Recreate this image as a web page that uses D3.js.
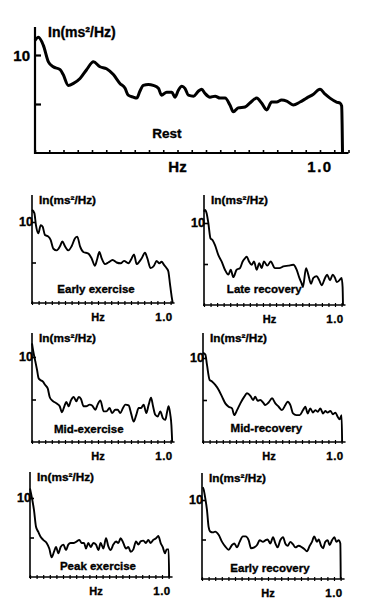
<!DOCTYPE html>
<html>
<head>
<meta charset="utf-8">
<script src="https://cdn.jsdelivr.net/npm/d3@7"></script>
<style>
  html, body { margin: 0; padding: 0; background: #fff; }
  svg { display: block; font-family: "Liberation Sans", Arial, Helvetica, sans-serif; font-weight: bold; }
  svg text { fill: #000; stroke: #000; stroke-width: 0.35px; }
</style>
</head>
<body>
<svg id="chart" width="367" height="611"></svg>
<script>
// spectra: [frequency in Hz, ln(ms²/Hz)]
const rest = [
  [0, 11.5], [0.012, 11.8], [0.029, 11.0], [0.047, 9.3], [0.064, 8.8], [0.088, 8.5], [0.099, 8.0],
  [0.117, 6.9], [0.135, 7.1], [0.158, 7.6], [0.181, 8.5], [0.205, 9.3], [0.228, 8.8], [0.251, 8.6],
  [0.275, 8.0], [0.298, 7.1], [0.316, 6.6], [0.327, 5.9], [0.345, 5.7], [0.357, 5.6], [0.368, 6.3],
  [0.380, 6.9], [0.398, 7.0], [0.415, 6.9], [0.433, 6.6], [0.444, 5.9], [0.462, 6.2], [0.480, 6.2],
  [0.491, 5.7], [0.503, 6.4], [0.515, 6.8], [0.526, 6.6], [0.538, 5.9], [0.556, 5.8], [0.573, 6.3],
  [0.585, 6.5], [0.596, 6.1], [0.614, 5.7], [0.632, 5.8], [0.649, 5.6], [0.667, 5.6], [0.684, 4.9],
  [0.696, 4.2], [0.713, 4.6], [0.737, 4.7], [0.754, 5.1], [0.778, 5.6], [0.795, 5.1], [0.813, 4.4],
  [0.830, 5.2], [0.848, 5.2], [0.865, 5.4], [0.883, 5.3], [0.906, 4.9], [0.930, 5.2], [0.953, 5.6],
  [0.977, 6.0], [1.000, 6.5], [1.018, 6.0], [1.035, 5.6], [1.058, 5.2], [1.070, 5.1], [1.076, 4.8],
  [1.079, 0]
];
const earlyExercise = [
  [0, 11.5], [0.018, 11.1], [0.03, 9.6], [0.048, 8.6], [0.066, 9.6], [0.081, 9.4], [0.098, 8.4],
  [0.124, 8.2], [0.141, 7.8], [0.162, 6.7], [0.187, 6.5], [0.212, 7.0], [0.230, 7.6], [0.25, 7.0],
  [0.275, 6.5], [0.30, 7.0], [0.326, 8.0], [0.343, 8.2], [0.364, 7.0], [0.389, 6.3], [0.427, 6.1],
  [0.452, 5.5], [0.477, 4.6], [0.495, 5.5], [0.51, 6.3], [0.528, 5.5], [0.553, 4.8], [0.578, 5.0],
  [0.611, 5.3], [0.641, 5.0], [0.672, 4.9], [0.697, 5.2], [0.73, 4.9], [0.755, 5.5], [0.773, 6.0],
  [0.793, 4.8], [0.813, 5.1], [0.83, 5.5], [0.856, 6.2], [0.874, 5.5], [0.899, 4.3], [0.924, 4.6],
  [0.944, 5.2], [0.965, 4.9], [0.982, 5.1], [1.0, 4.7], [1.02, 4.3], [1.033, 3.9], [1.045, 2.4],
  [1.058, 0.8], [1.066, 0]
];
const lateRecovery = [
  [0, 11.4], [0.008, 11.6], [0.02, 11.2], [0.033, 10.0], [0.05, 8.1], [0.066, 7.9], [0.084, 7.3],
  [0.109, 6.1], [0.135, 5.3], [0.16, 4.3], [0.186, 3.7], [0.204, 4.3], [0.224, 3.4], [0.249, 4.3],
  [0.275, 4.5], [0.295, 5.3], [0.313, 5.7], [0.326, 5.9], [0.344, 5.3], [0.364, 4.9], [0.382, 5.3],
  [0.402, 4.3], [0.422, 5.1], [0.44, 4.5], [0.458, 5.3], [0.483, 4.8], [0.509, 5.3], [0.542, 4.5],
  [0.575, 4.5], [0.606, 4.7], [0.644, 4.8], [0.682, 4.9], [0.707, 4.3], [0.728, 3.3], [0.746, 2.6],
  [0.755, 2.2], [0.779, 4.5], [0.796, 3.7], [0.817, 2.6], [0.835, 3.3], [0.86, 3.5], [0.88, 3.0],
  [0.898, 2.4], [0.924, 3.3], [0.94, 3.7], [0.962, 3.0], [0.982, 3.7], [1.0, 3.3], [1.013, 2.8],
  [1.033, 3.0], [1.05, 3.3], [1.058, 2.2], [1.061, 0]
];
const midExercise = [
  [0, 11.6], [0.008, 10.8], [0.025, 9.5], [0.038, 8.5], [0.05, 7.5], [0.063, 7.3], [0.083, 7.1],
  [0.10, 6.7], [0.119, 6.3], [0.134, 5.3], [0.152, 4.9], [0.169, 4.7], [0.19, 4.5], [0.21, 4.2],
  [0.227, 3.5], [0.245, 4.2], [0.26, 4.7], [0.278, 4.2], [0.295, 4.9], [0.316, 5.3], [0.336, 4.8],
  [0.354, 5.3], [0.37, 5.1], [0.391, 4.2], [0.41, 4.2], [0.437, 4.4], [0.455, 4.3], [0.48, 3.8],
  [0.497, 4.4], [0.518, 4.9], [0.543, 3.6], [0.563, 3.6], [0.588, 4.0], [0.606, 3.4], [0.631, 3.8],
  [0.649, 3.8], [0.669, 3.4], [0.689, 4.0], [0.707, 4.4], [0.732, 4.3], [0.75, 3.4], [0.77, 2.4],
  [0.79, 3.2], [0.808, 4.0], [0.826, 4.0], [0.846, 4.4], [0.866, 3.4], [0.884, 4.4], [0.902, 5.2],
  [0.917, 4.2], [0.934, 3.2], [0.952, 3.0], [0.972, 3.6], [0.992, 2.8], [1.01, 2.6], [1.023, 3.5],
  [1.035, 4.2], [1.048, 3.2], [1.056, 2.0], [1.062, 0]
];
const midRecovery = [
  [0, 10.6], [0.018, 10.4], [0.03, 9.2], [0.05, 7.4], [0.068, 7.2], [0.093, 6.8], [0.119, 6.2],
  [0.144, 5.4], [0.169, 4.6], [0.194, 4.2], [0.22, 4.0], [0.237, 3.2], [0.258, 3.8], [0.283, 4.6],
  [0.313, 5.4], [0.333, 5.8], [0.359, 5.5], [0.379, 5.0], [0.396, 5.4], [0.414, 4.9], [0.434, 5.0],
  [0.455, 4.7], [0.472, 4.4], [0.497, 4.7], [0.523, 5.2], [0.548, 4.6], [0.573, 4.2], [0.598, 3.8],
  [0.624, 4.4], [0.641, 4.8], [0.662, 4.4], [0.682, 3.4], [0.707, 3.2], [0.732, 3.2], [0.758, 3.8],
  [0.775, 4.2], [0.793, 3.4], [0.813, 4.0], [0.833, 3.5], [0.851, 3.8], [0.869, 3.6], [0.889, 4.0],
  [0.909, 3.4], [0.927, 3.7], [0.944, 3.5], [0.965, 3.7], [0.985, 3.3], [1.003, 3.5], [1.02, 3.0],
  [1.035, 2.7], [1.05, 3.2], [1.054, 0]
];
const peakExercise = [
  [0, 11.2], [0.005, 10.8], [0.018, 9.7], [0.03, 8.5], [0.045, 6.4], [0.063, 5.7], [0.08, 5.1],
  [0.10, 4.7], [0.126, 4.3], [0.146, 3.6], [0.164, 2.5], [0.182, 3.2], [0.197, 3.8], [0.215, 3.0],
  [0.232, 3.8], [0.253, 4.1], [0.273, 3.4], [0.29, 4.1], [0.308, 4.3], [0.333, 4.3], [0.354, 4.5],
  [0.374, 4.7], [0.39, 4.3], [0.41, 4.3], [0.424, 3.6], [0.442, 4.3], [0.46, 3.8], [0.48, 4.3],
  [0.5, 4.1], [0.518, 3.4], [0.535, 4.3], [0.556, 3.6], [0.576, 4.9], [0.593, 3.9], [0.611, 3.4],
  [0.631, 4.1], [0.652, 4.5], [0.669, 4.3], [0.687, 4.9], [0.707, 4.3], [0.727, 3.6], [0.745, 3.8],
  [0.763, 3.2], [0.783, 3.5], [0.803, 4.5], [0.821, 4.1], [0.838, 4.5], [0.859, 4.6], [0.879, 4.3],
  [0.896, 4.7], [0.914, 4.3], [0.934, 4.7], [0.955, 4.9], [0.972, 5.2], [0.99, 4.3], [1.005, 3.8],
  [1.023, 3.0], [1.035, 3.5], [1.05, 3.5], [1.054, 0]
];
const earlyRecovery = [
  [0.005, 11.6], [0.013, 11.3], [0.025, 10.2], [0.038, 8.7], [0.05, 6.6], [0.063, 6.0], [0.083, 5.9],
  [0.1, 6.0], [0.126, 5.6], [0.152, 4.7], [0.177, 4.1], [0.202, 3.7], [0.227, 4.3], [0.245, 4.5],
  [0.265, 4.0], [0.285, 4.7], [0.31, 5.4], [0.33, 5.4], [0.354, 4.9], [0.371, 3.9], [0.396, 4.0],
  [0.417, 4.3], [0.437, 4.9], [0.462, 4.7], [0.48, 4.9], [0.497, 5.0], [0.518, 4.5], [0.538, 5.3],
  [0.556, 4.5], [0.573, 4.0], [0.593, 4.9], [0.614, 5.3], [0.631, 4.5], [0.649, 4.2], [0.669, 4.7],
  [0.689, 4.4], [0.707, 4.0], [0.732, 4.2], [0.758, 4.0], [0.775, 3.8], [0.795, 3.5], [0.816, 4.2],
  [0.833, 4.7], [0.85, 5.4], [0.871, 4.7], [0.884, 5.0], [0.902, 4.2], [0.917, 3.9], [0.934, 4.7],
  [0.952, 4.9], [0.967, 4.3], [0.985, 4.9], [1.003, 5.3], [1.018, 4.7], [1.035, 4.9], [1.048, 4.5],
  [1.051, 0]
];

const yTicks = [5, 10];
const hzTicks = d3.range(0, 1.1001, 0.05);
const yLabel = 'In(ms²/Hz)';
const xLabel = 'Hz';

// panel placement (pixels) — x0/base = axis origin, y10 = height of "10", pxHz = px per Hz
const panels = [
  { name: 'Rest', data: rest, x0: 35, base: 153, y10: 55, top: 27, pxHz: 285, xMax: 1.1,
    big: true, capHz: 0.463, capDy: -15 },
  { name: 'Early exercise', data: earlyExercise, x0: 32, base: 303, y10: 222, top: 195, pxHz: 132, xMax: 1.08, capHz: 0.485, capDy: -10 },
  { name: 'Late recovery', data: lateRecovery, x0: 204, base: 305, y10: 223, top: 195, pxHz: 131, xMax: 1.08, capHz: 0.46, capDy: -12 },
  { name: 'Mid-exercise', data: midExercise, x0: 32, base: 442, y10: 357, top: 333, pxHz: 132, xMax: 1.08, capHz: 0.43, capDy: -9 },
  { name: 'Mid-recovery', data: midRecovery, x0: 203, base: 442, y10: 358, top: 333, pxHz: 132, xMax: 1.08, capHz: 0.48, capDy: -10 },
  { name: 'Peak exercise', data: peakExercise, x0: 30, base: 577, y10: 498, top: 472, pxHz: 132, xMax: 1.08, capHz: 0.515, capDy: -7 },
  { name: 'Early recovery', data: earlyRecovery, x0: 202, base: 579, y10: 500, top: 473, pxHz: 132, xMax: 1.08, capHz: 0.515, capDy: -7 }
];

const svg = d3.select('#chart');

panels.forEach((p) => {
  const g = svg.append('g');
  const x = d3.scaleLinear().domain([0, 1]).range([p.x0, p.x0 + p.pxHz]);
  const y = d3.scaleLinear().domain([0, 10]).range([p.base, p.y10]);
  const fs = p.big ? 13.5 : 11.5;
  const axisW = p.big ? 2.2 : 1.6;

  // y axis
  const yAxis = d3.axisRight(y).tickValues(yTicks).tickSize(p.big ? 6 : 4).tickFormat('');
  const ya = g.append('g').attr('transform', `translate(${p.x0},0)`).call(yAxis);
  ya.select('.domain').remove();
  ya.selectAll('.tick line').attr('stroke', '#000').attr('stroke-width', axisW);
  g.append('line')
    .attr('x1', p.x0).attr('x2', p.x0)
    .attr('y1', p.top).attr('y2', p.base + 1)
    .attr('stroke', '#000').attr('stroke-width', axisW);

  // x axis
  const ticks = hzTicks.filter((t) => t <= p.xMax + 1e-6);
  const xAxis = d3.axisBottom(x).tickValues(ticks).tickSize(p.big ? -3 : 2).tickFormat('');
  const xa = g.append('g').attr('transform', `translate(0,${p.base})`).call(xAxis);
  xa.select('.domain').remove();
  xa.selectAll('.tick line')
    .attr('y1', p.big ? 0 : -2)
    .attr('stroke', '#000').attr('stroke-width', p.big ? 1.6 : 1.2);
  g.append('line')
    .attr('x1', p.x0 - 1).attr('x2', x(p.xMax))
    .attr('y1', p.base).attr('y2', p.base)
    .attr('stroke', '#000').attr('stroke-width', axisW);

  // spectrum
  const line = d3.line()
    .x((d) => x(d[0]))
    .y((d) => y(d[1]))
    .curve(d3.curveMonotoneX);
  g.append('path')
    .datum(p.data)
    .attr('d', line)
    .attr('fill', 'none')
    .attr('stroke', '#000')
    .attr('stroke-width', p.big ? 3 : 1.9)
    .attr('stroke-linejoin', 'round');

  // texts
  g.append('text')
    .attr('x', p.x0 + (p.big ? 13 : 7))
    .attr('y', p.top + (p.big ? 10 : 9))
    .attr('font-size', p.big ? 14 : 11.8)
    .text(yLabel);
  g.append('text')
    .attr('x', p.big ? p.x0 - 5 : p.x0 + 1)
    .attr('y', y(10) + (p.big ? 6 : 4))
    .attr('text-anchor', 'end')
    .attr('font-size', p.big ? 15 : 12.5)
    .text('10');
  g.append('text')
    .attr('x', x(0.5))
    .attr('y', p.base + (p.big ? 19 : 18))
    .attr('text-anchor', 'middle')
    .attr('font-size', p.big ? 15 : 11)
    .text(xLabel);
  g.append('text')
    .attr('x', x(1.0))
    .attr('y', p.base + (p.big ? 19 : 18))
    .attr('text-anchor', 'middle')
    .attr('font-size', p.big ? 15 : 11.5)
    .attr('letter-spacing', p.big ? 1.5 : 0.5)
    .text('1.0');
  g.append('text')
    .attr('x', x(p.capHz))
    .attr('y', p.base + p.capDy)
    .attr('text-anchor', 'middle')
    .attr('font-size', fs)
    .text(p.name);
});
</script>
</body>
</html>
